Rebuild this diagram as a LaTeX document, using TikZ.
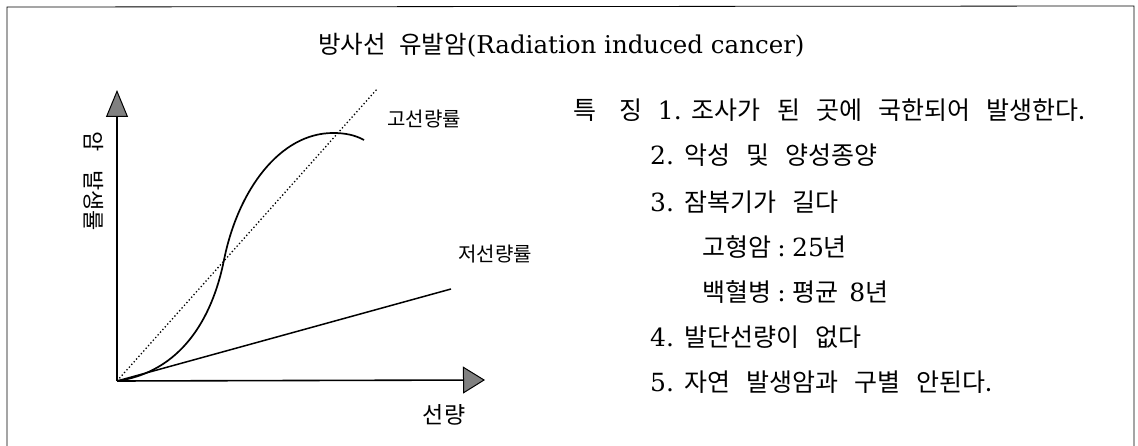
\documentclass[tikz,border=0pt]{standalone}
\usepackage{fontspec}
\setmainfont{DejaVu Serif}
\newfontfamily\kr{Noto Sans CJK KR}
\usetikzlibrary{arrows.meta}
\newcommand\widespaces{\spaceskip=0.65em\relax}
\begin{document}
\begin{tikzpicture}[x=1pt,y=-1pt,
  axis/.style={line width=1.6pt},
  lbl/.style={inner sep=0pt, font=\kr\fontsize{20}{20}\selectfont},
  item/.style={inner sep=0pt, anchor=west, font={\fontsize{25}{25}\selectfont}},
  frame/.style={line width=0.8pt},
]
\useasboundingbox (0,0) rectangle (1138,446);
\draw[frame] (7,447) -- (7,7) -- (1134,6) -- (1134,447);

% title
\node[inner sep=0pt, anchor=west, font=\fontsize{24.5}{24.5}\selectfont] (title) at (318,45)
  {{\kr 방사선\hspace{0.55em}유발암}(Radiation induced cancer)};

% axes
\coordinate (O) at (117,381);
\coordinate (Y) at (117,90);
\coordinate (X) at (485,380);
\draw[axis,-{Triangle[length=27pt,width=22pt,fill=gray,line width=1pt]}] (O) -- (Y);
\draw[axis,-{Triangle[length=22pt,width=27pt,fill=gray,line width=1pt]}] (O) -- (X);

% curves
\coordinate (L) at (451,289);
\coordinate (D) at (378,88);
\coordinate (S1) at (224,260);
\coordinate (S2) at (333,133);
\coordinate (S3) at (364,140);
\draw[line width=1.5pt] (O) -- (L);
\draw[line width=1.3pt, dash pattern=on 1.3pt off 2.3pt] (O) -- (D);
\draw[line width=1.7pt] (O) .. controls (180,372) and (212,320) .. (S1)
  .. controls (238,190) and (280,133) .. (S2)
  .. controls (345,133) and (355,135) .. (S3);

% axis labels
\node[lbl] (hi) at (424,119) {고선량률};
\node[lbl] (lo) at (495,254) {저선량률};
\node[lbl, font=\kr\fontsize{23}{23}\selectfont] (dose) at (444,415) {선량};
\node[lbl, rotate=-90, font=\kr\fontsize{22}{22}\selectfont] (ylab) at (94,181) {암\hspace{0.85em}발생률};

% list
\node[item] (t1) at (573,110) {{\kr 특\hspace{0.95em}징}\hspace{0.6em}1.\hspace{0.4em}{\kr\widespaces 조사가 된 곳에 국한되어 발생한다.}};
\node[item] (t2) at (650,155) {2.\hspace{0.4em}{\kr\widespaces 악성 및 양성종양}};
\node[item] (t3) at (650,202) {3.\hspace{0.4em}{\kr\widespaces 잠복기가 길다}};
\node[item] (t4) at (702,247) {{\kr 고형암}\hspace{0.25em}:\hspace{0.25em}25{\kr 년}};
\node[item] (t5) at (702,292) {{\kr 백혈병}\hspace{0.25em}:\hspace{0.25em}{\kr 평균}\hspace{0.45em}8{\kr 년}};
\node[item] (t6) at (650,337) {4.\hspace{0.4em}{\kr\widespaces 발단선량이 없다}};
\node[item] (t7) at (650,382) {5.\hspace{0.4em}{\kr\widespaces 자연 발생암과 구별 안된다.}};
\end{tikzpicture}
\end{document}
